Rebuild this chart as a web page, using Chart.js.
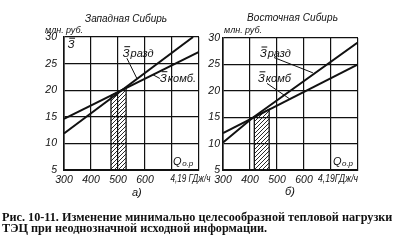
<!DOCTYPE html>
<html><head><meta charset="utf-8">
<script src="https://cdn.jsdelivr.net/npm/chart.js@4"></script>
<style>
body{margin:0;background:#fff;width:395px;height:242px;overflow:hidden;position:relative;font-family:"Liberation Sans",sans-serif;color:#111}
canvas{position:absolute;top:0}
.t{position:absolute;white-space:nowrap;font-style:italic;line-height:1}
.cap{position:absolute;white-space:nowrap;font-family:"Liberation Serif",serif;font-weight:bold;line-height:1;left:2px}
</style></head><body>
<canvas id="cL" width="216" height="190" style="left:0"></canvas>
<canvas id="cR" width="162" height="190" style="left:200px"></canvas>
<div class="t" id="tL" style="left:85px;top:14px;font-size:10px">Западная Сибирь</div>
<div class="t" id="tR" style="left:247px;top:13px;font-size:10px">Восточная Сибирь</div>
<div class="t" id="uL" style="left:45px;top:26px;font-size:9px">млн. руб.</div>
<div class="t" id="uR" style="left:224px;top:26px;font-size:9px">млн. руб.</div>
<div class="t" style="left:132px;top:187px;font-size:11px">а)</div>
<div class="t" style="left:285px;top:186px;font-size:11px">б)</div>
<div class="cap" id="cap1" style="top:211px;font-size:11px">Рис. 10-11. Изменение минимально целесообразной тепловой нагрузки</div>
<div class="cap" id="cap2" style="top:222px;font-size:11px">ТЭЦ при неоднозначной исходной информации.</div>
<script>
// ---- data ----
const xTicks = [300, 400, 500, 600, 700, 800];
const xTickLabels = ['300', '400', '500', '600', '', ''];
const yTicks = [5, 10, 15, 20, 25, 30];
const yTickLabels = ['5', '10', '15', '20', '25', '30'];
const unitLabelWest = '4,19 ГДж/ч';
const unitLabelEast = '4,19ГДж/ч';

// Западная Сибирь
const westRazdX = [300, 778];
const westRazdY = [11.85, 30];
const westKombX = [300, 800];
const westKombY = [14.6, 27.2];
const westZoneX = [474, 474, 530, 530];
const westZoneY = [5, 19.0, 20.5, 5];

// Восточная Сибирь
const eastRazdX = [300, 410, 800];
const eastRazdY = [10.2, 14.9, 29.2];
const eastKombX = [300, 800];
const eastKombY = [12.0, 25.0];
const eastZoneX = [416, 416, 471, 471];
const eastZoneY = [5, 15.0, 16.5, 5];

// ---- helpers ----
const zip = (xs, ys) => xs.map((x, i) => ({x, y: ys[i]}));
const INK = '#111';
const tickFont = {family: '"Liberation Sans", sans-serif', size: 10.5, style: 'italic'};

function hatch() {
  const c = document.createElement('canvas');
  c.width = c.height = 4;
  const g = c.getContext('2d');
  g.strokeStyle = INK; g.lineWidth = 0.9;
  g.beginPath();
  g.moveTo(-1, 5); g.lineTo(5, -1);
  g.moveTo(-1, 1); g.lineTo(1, -1);
  g.moveTo(3, 5); g.lineTo(5, 3);
  g.stroke();
  return g.createPattern(c, 'repeat');
}

function drawZ(ctx, x, y, rest) {
  ctx.font = 'italic 11px "Liberation Sans", sans-serif';
  ctx.fillStyle = INK;
  ctx.textAlign = 'left'; ctx.textBaseline = 'alphabetic';
  ctx.fillText('З', x, y);
  const w = ctx.measureText('З').width;
  ctx.strokeStyle = INK; ctx.lineWidth = 1;
  ctx.beginPath(); ctx.moveTo(x + 1.5, y - 10); ctx.lineTo(x + w + 0.5, y - 10); ctx.stroke();
  if (rest) ctx.fillText(rest, x + w + 1, y);
}

const annot = {
  id: 'annot',
  afterDatasetsDraw(chart) {
    const a = chart.options.plugins.annot;
    const ctx = chart.ctx, xs = chart.scales.x, ys = chart.scales.y;
    const X = v => xs.getPixelForValue(v), Y = v => ys.getPixelForValue(v);
    ctx.save();
    ctx.strokeStyle = INK; ctx.lineWidth = 1;
    a.leaders.forEach(l => {
      ctx.beginPath(); ctx.moveTo(X(l[0]), Y(l[1])); ctx.lineTo(X(l[2]), Y(l[3])); ctx.stroke();
    });
    a.labels.forEach(l => drawZ(ctx, X(l.x), Y(l.y), l.rest));
    ctx.font = 'italic 11px "Liberation Sans", sans-serif';
    ctx.fillStyle = INK; ctx.textAlign = 'left';
    const qx = X(a.q[0]), qy = Y(a.q[1]);
    ctx.fillText('Q', qx, qy);
    const qw = ctx.measureText('Q').width;
    ctx.font = 'italic 8px "Liberation Sans", sans-serif';
    ctx.fillText('о.р', qx + qw + 0.5, qy + 1);
    // unit label on x axis, condensed horizontally to the reference width
    ctx.font = 'italic 10.5px "Liberation Sans", sans-serif';
    const mw = ctx.measureText(a.unit.text).width;
    const sx = Math.min(1, a.unit.width / mw);
    const ux = X(a.unit.x), uy = chart.chartArea.bottom + 9;
    ctx.translate(ux, uy);
    ctx.scale(sx, 1);
    ctx.textAlign = a.unit.align; ctx.textBaseline = 'middle';
    ctx.fillText(a.unit.text, 0, 0);
    ctx.restore();
  }
};

function makeChart(id, d) {
  return new Chart(document.getElementById(id), {
    type: 'scatter',
    data: {datasets: [
      {data: zip(d.zoneX, d.zoneY), showLine: true, fill: 'start', backgroundColor: hatch(),
       borderColor: INK, borderWidth: 1.3, pointRadius: 0, tension: 0},
      {data: zip(d.razdX, d.razdY), showLine: true, fill: false, borderColor: INK, borderWidth: 2, pointRadius: 0, tension: 0},
      {data: zip(d.kombX, d.kombY), showLine: true, fill: false, borderColor: INK, borderWidth: 2, pointRadius: 0, tension: 0}
    ]},
    options: {
      responsive: false, animation: false, events: [],
      layout: {padding: {top: d.padTop, right: d.padRight, left: 0, bottom: 0}},
      plugins: {legend: {display: false}, tooltip: {enabled: false}, title: {display: false}, annot: d.annot},
      scales: {
        x: {type: 'linear', min: 300, max: 800,
          afterBuildTicks: s => { s.ticks = xTicks.map(v => ({value: v})); },
          afterFit: s => { s.height = 20; },
          ticks: {callback: (v, i) => xTickLabels[i], font: tickFont, color: INK, padding: 4, maxRotation: 0, autoSkip: false},
          grid: {color: INK, lineWidth: 1.2, drawTicks: false},
          border: {color: INK, width: 2}},
        y: {type: 'linear', min: 5, max: 30,
          afterBuildTicks: s => { s.ticks = yTicks.map(v => ({value: v})); },
          afterFit: s => { s.width = d.yWidth; },
          ticks: {callback: (v, i) => yTickLabels[i], font: tickFont, color: INK, padding: d.yPad, autoSkip: false},
          grid: {color: INK, lineWidth: 1.2, drawTicks: false},
          border: {color: INK, width: 1.6}}
      }
    },
    plugins: [annot]
  });
}

makeChart('cL', {
  zoneX: westZoneX, zoneY: westZoneY, razdX: westRazdX, razdY: westRazdY, kombX: westKombX, kombY: westKombY,
  padTop: 37, padRight: 17, yWidth: 64, yPad: 7,
  annot: {
    labels: [{x: 314, y: 27.9, rest: ''}, {x: 518, y: 26.3, rest: 'разд'}, {x: 656, y: 21.6, rest: 'комб.'}],
    leaders: [[533, 26.0, 570, 22.2], [626, 23.0, 655, 22.2]],
    q: [704, 5.9],
    unit: {text: unitLabelWest, x: 694, align: 'left', width: 40}
  }
});
makeChart('cR', {
  zoneX: eastZoneX, zoneY: eastZoneY, razdX: eastRazdX, razdY: eastRazdY, kombX: eastKombX, kombY: eastKombY,
  padTop: 38, padRight: 4, yWidth: 23, yPad: 3,
  annot: {
    labels: [{x: 437, y: 26.4, rest: 'разд'}, {x: 430, y: 21.7, rest: 'комб'}],
    leaders: [[489, 26.3, 633, 23.4], [463, 21.4, 546, 18.5]],
    q: [707, 5.95],
    unit: {text: unitLabelEast, x: 800, align: 'right', width: 40}
  }
});

// fit text widths to the reference
function fitSize(id, w) {
  const el = document.getElementById(id);
  const r = el.getBoundingClientRect().width;
  const fs = parseFloat(getComputedStyle(el).fontSize);
  const nfs = fs * w / r;
  el.style.fontSize = nfs + 'px';
  return nfs;
}
function fitSpacing(id, w) {
  const el = document.getElementById(id);
  const r = el.getBoundingClientRect().width;
  el.style.letterSpacing = ((w - r) / el.textContent.length) + 'px';
}
const capFs = fitSize('cap1', 391);
document.getElementById('cap2').style.fontSize = capFs + 'px';
fitSpacing('tL', 82);
fitSpacing('tR', 91);
fitSpacing('uL', 38);
fitSpacing('uR', 38);
</script>
</body></html>
